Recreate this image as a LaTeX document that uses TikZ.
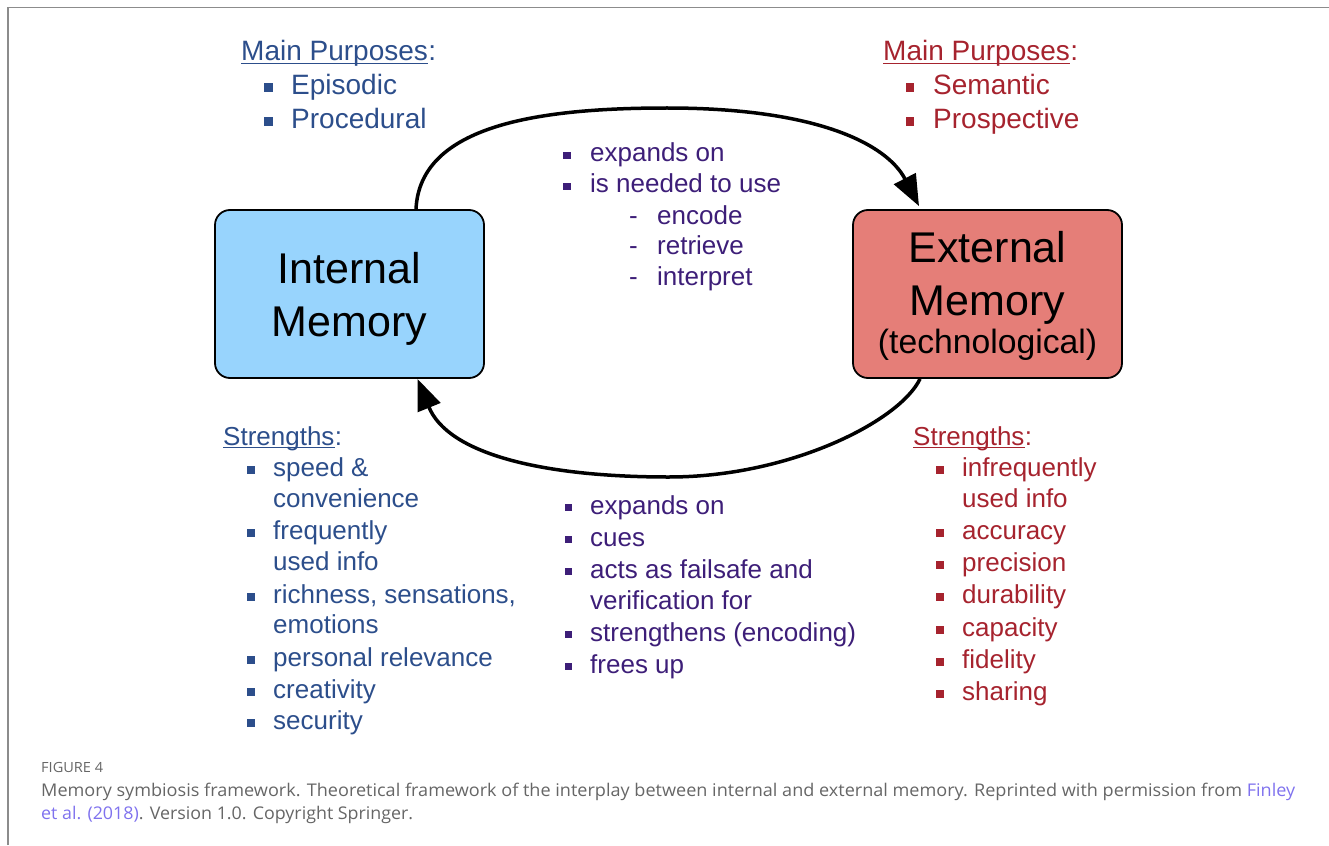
\documentclass[tikz,border=0pt]{standalone}
\usepackage{graphicx}
\usepackage{fontspec}
\setmainfont{Liberation Sans}
\newfontfamily\capfont{Open Sans}
\usetikzlibrary{arrows.meta}
\definecolor{ibl}{HTML}{2C4E8B}
\definecolor{ered}{HTML}{A6232E}
\definecolor{mpur}{HTML}{3D1E78}
\definecolor{boxblue}{HTML}{98D4FD}
\definecolor{boxred}{HTML}{E57E78}
\definecolor{capgray}{HTML}{666666}
\definecolor{caplink}{HTML}{7F72EE}
\definecolor{framegray}{HTML}{8C8C8C}
\newcommand\bulletsq[4]{\fill[#1] ({#2-#4/2},{#3-#4/2}) rectangle ({#2+#4/2},{#3+#4/2});}
\begin{document}
\begin{tikzpicture}[x=1pt,y=-1pt,
 t28/.style={anchor=base west,inner sep=0,font=\fontsize{28}{33}\selectfont},
 t26/.style={anchor=base west,inner sep=0,font=\fontsize{26}{30}\selectfont},
 big/.style={anchor=base,inner sep=0,font=\fontsize{43}{50}\selectfont},
 membox/.style={draw=black,line width=1.8,rounded corners=15,minimum width=269,minimum height=168,inner sep=0},
 conn/.style={line width=3.5,-{Triangle[length=31pt,width=24pt]}},
 capt/.style={anchor=base west,inner sep=0,text=capgray,font=\capfont\fontsize{17.5}{20}\selectfont},
 uline/.style={line width=1.5},
]
\useasboundingbox (0,0) rectangle (1329,845);
\draw[framegray,line width=1.5] (8,845) -- (8,7.5) -- (1329,7.5);

% boxes
\node[membox,fill=boxblue] (im) at (349.5,294) {};
\node[membox,fill=boxred] (ex) at (987.5,294) {};
\node[big] (imt1) at (349.5,283) {Internal};
\node[big] (imt2) at (349.5,336) {Memory};
\node[big] (ext1) at (987.5,262) {External};
\node[big] (ext2) at (987.5,315) {Memory};
\node[big,font=\fontsize{33.7}{40}\selectfont] (ext3) at (987.5,353) {(technological)};

% connectors
\coordinate (tp) at (667,108);
\coordinate (bt) at (669,477);
\draw[conn] ([xshift=66.5]im.north) .. controls +(4,-85) and +(-125,0) .. (tp)
  .. controls +(150,0) and +(-32,-62) .. ([xshift=-68.5,yshift=3]ex.north);
\draw[conn] ([xshift=-67.5]ex.south) .. controls +(-20,42) and +(121,0) .. (bt)
  .. controls +(-130,0) and +(30,74) .. ([xshift=68]im.south);

% left purposes
\node[t28,text=ibl] (lmp) at (241,61) {Main Purposes};
\draw[ibl,uline] ([yshift=-2.7]lmp.base west) -- ([yshift=-2.7]lmp.base east);
\node[t28,text=ibl] (lmpc) at (lmp.base east) {:};
\bulletsq{ibl}{268}{87.5}{9}
\bulletsq{ibl}{268}{121.5}{9}
\node[t28,text=ibl] (lp1) at (291,95) {Episodic};
\node[t28,text=ibl] (lp2) at (291,129) {Procedural};

% right purposes
\node[t28,text=ered] (rmp) at (883,61) {Main Purposes};
\draw[ered,uline] ([yshift=-2.7]rmp.base west) -- ([yshift=-2.7]rmp.base east);
\node[t28,text=ered] (rmpc) at (rmp.base east) {:};
\bulletsq{ered}{910}{87.5}{8.5}
\bulletsq{ered}{910}{121.5}{8.5}
\node[t28,text=ered] (rp1) at (933,95) {Semantic};
\node[t28,text=ered] (rp2) at (933,129) {Prospective};

% middle top
\bulletsq{mpur}{567}{155.5}{7.5}
\bulletsq{mpur}{567}{186.5}{7.5}
\node[t26,text=mpur] (mt1) at (590,162) {expands on};
\node[t26,text=mpur] (mt2) at (590,193) {is needed to use};
\node[t26,text=mpur] (md1) at (629,224) {-};
\node[t26,text=mpur] (md2) at (629,254) {-};
\node[t26,text=mpur] (md3) at (629,285) {-};
\node[t26,text=mpur] (mt3) at (657,224) {encode};
\node[t26,text=mpur] (mt4) at (657,254) {retrieve};
\node[t26,text=mpur] (mt5) at (657,285) {interpret};

% left strengths
\node[t26,text=ibl] (ls) at (223,445) {Strengths};
\draw[ibl,uline] ([yshift=-2.7]ls.base west) -- ([yshift=-2.7]ls.base east);
\node[t26,text=ibl] (lsc) at (ls.base east) {:};
\foreach \yy in {476,539,603,666,698,729} {\bulletsq{ibl}{251}{\yy-6}{7.5}}
\node[t26,text=ibl] (l1) at (273,476) {speed \&};
\node[t26,text=ibl] (l1b) at (273,507) {convenience};
\node[t26,text=ibl] (l2) at (273,539) {frequently};
\node[t26,text=ibl] (l2b) at (273,570) {used info};
\node[t26,text=ibl] (l3) at (273,603) {richness, sensations,};
\node[t26,text=ibl] (l3b) at (273,633) {emotions};
\node[t26,text=ibl] (l4) at (273,666) {personal relevance};
\node[t26,text=ibl] (l5) at (273,698) {creativity};
\node[t26,text=ibl] (l6) at (273,729) {security};

% right strengths
\node[t26,text=ered] (rs) at (913,445) {Strengths};
\draw[ered,uline] ([yshift=-2.7]rs.base west) -- ([yshift=-2.7]rs.base east);
\node[t26,text=ered] (rsc) at (rs.base east) {:};
\foreach \yy in {476,539,571,603,636,668,700} {\bulletsq{ered}{940}{\yy-6}{7.5}}
\node[t26,text=ered] (r1) at (962,476) {infrequently};
\node[t26,text=ered] (r1b) at (962,507) {used info};
\node[t26,text=ered] (r2) at (962,539) {accuracy};
\node[t26,text=ered] (r3) at (962,571) {precision};
\node[t26,text=ered] (r4) at (962,603) {durability};
\node[t26,text=ered] (r5) at (962,636) {capacity};
\node[t26,text=ered] (r6) at (962,668) {fidelity};
\node[t26,text=ered] (r7) at (962,700) {sharing};

% middle bottom
\foreach \yy in {514,546,578,641,673} {\bulletsq{mpur}{568.5}{\yy-6.5}{7.5}}
\node[t26,text=mpur] (b1) at (590,514) {expands on};
\node[t26,text=mpur] (b2) at (590,546) {cues};
\node[t26,text=mpur] (b3) at (590,578) {acts as failsafe and};
\node[t26,text=mpur] (b3b) at (590,609) {verification for};
\node[t26,text=mpur] (b4) at (590,641) {strengthens (encoding)};
\node[t26,text=mpur] (b5) at (590,673) {frees up};

% caption
\node[capt,font=\capfont\fontsize{14}{16}\selectfont] (fig) at (41,772) {\resizebox{62pt}{\height}{FIGURE 4}};
\node[capt] (cap1) at (41,796) {\resizebox{1254pt}{\height}{Memory symbiosis framework. Theoretical framework of the interplay between internal and external memory. Reprinted with permission from \textcolor{caplink}{Finley}}};
\node[capt] (cap2) at (41,819) {\resizebox{372pt}{\height}{\textcolor{caplink}{et al. (2018)}. Version 1.0. Copyright Springer.}};
\end{tikzpicture}
\end{document}
